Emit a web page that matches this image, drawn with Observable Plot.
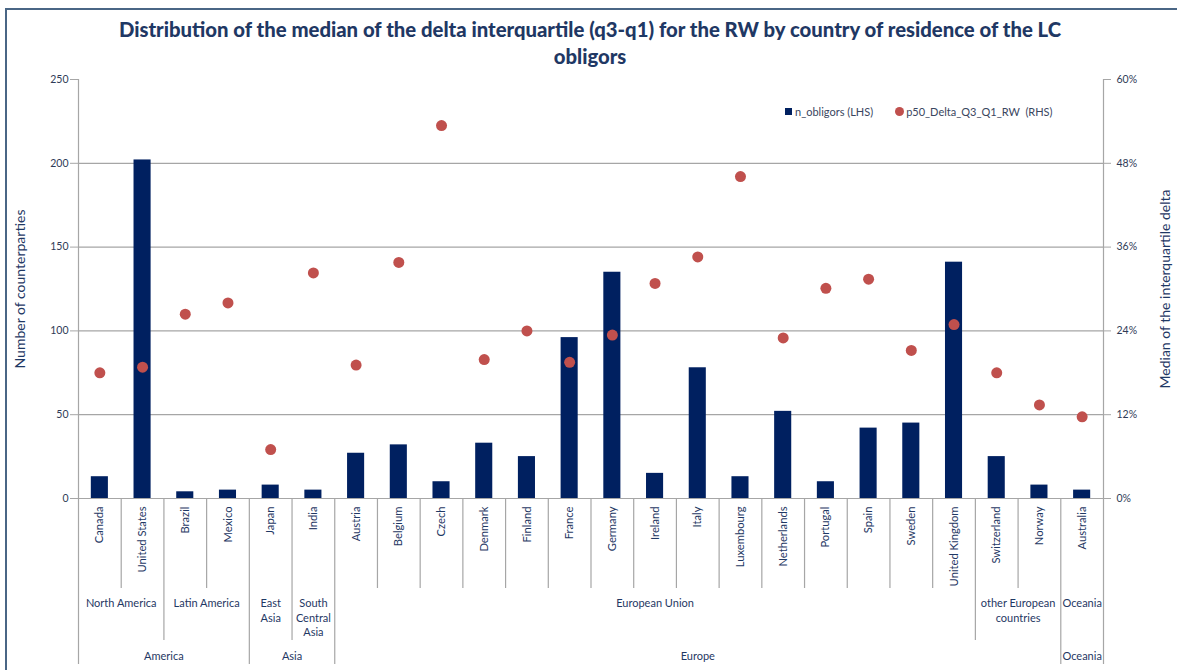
<!DOCTYPE html>
<html><head><meta charset="utf-8">
<script src="https://cdn.jsdelivr.net/npm/d3@7"></script>
<script src="https://cdn.jsdelivr.net/npm/@observablehq/plot@0.6"></script>
<style>
body{margin:0;background:#fff;font-family:Lato,"Open Sans",sans-serif;}
#wrap{position:relative;width:1177px;height:670px;overflow:hidden;background:#fff;}
#frame{position:absolute;left:5px;top:8px;width:1300px;height:800px;border-left:2px solid #4a6685;border-top:2px solid #4a6685;}
#title{position:absolute;left:0;top:16px;width:1180px;text-align:center;font-weight:900;font-size:20.3px;line-height:27px;color:#1f3864;}
#legend{position:absolute;left:785px;top:105px;font-size:11px;color:#3a4660;white-space:pre;display:flex;align-items:center;}
#legend .sq{display:inline-block;width:7px;height:7px;background:#002060;margin-right:3px;}
#legend .ci{display:inline-block;width:9px;height:9px;border-radius:50%;background:#c0504d;margin-left:22px;margin-right:2px;}
#chart{position:absolute;left:0;top:0;}
</style></head>
<body>
<div id="wrap">
  <div id="frame"></div>
  <div id="chart"></div>
  <div id="title">Distribution of the median of the delta interquartile (q3-q1) for the RW by country of residence of the LC<br>obligors</div>
  <div id="legend"><span class="sq"></span><span>n_obligors (LHS)</span><span class="ci"></span><span>p50_Delta_Q3_Q1_RW  (RHS)</span></div>
</div>
<script>
const countries = ["Canada","United States","Brazil","Mexico","Japan","India","Austria","Belgium","Czech","Denmark","Finland","France","Germany","Ireland","Italy","Luxembourg","Netherlands","Portugal","Spain","Sweden","United Kingdom","Switzerland","Norway","Australia"];
const nObligors = [13,202,4,5,8,5,27,32,10,33,25,96,135,15,78,13,52,10,42,45,141,25,8,5];
const p50DeltaPct = [18.0,18.8,26.4,28.0,7.0,32.3,19.1,33.8,53.4,19.9,24.0,19.5,23.4,30.8,34.6,46.1,23.0,30.1,31.4,21.2,24.9,18.0,13.4,11.7];
const regionOf = ["North America","North America","Latin America","Latin America","East\nAsia","South\nCentral\nAsia",
  "European Union","European Union","European Union","European Union","European Union","European Union","European Union","European Union",
  "European Union","European Union","European Union","European Union","European Union","European Union","European Union",
  "other European\ncountries","other European\ncountries","Oceania"];
const continentOf = ["America","America","America","America","Asia","Asia",
  "Europe","Europe","Europe","Europe","Europe","Europe","Europe","Europe","Europe","Europe","Europe","Europe","Europe","Europe","Europe","Europe","Europe","Oceania"];
const leftTicks = [0,50,100,150,200,250];
const gridTicks = [50,100,150,200];
const lhsMax = 250, rhsMax = 60;

const W = 1177, H = 670, mL = 78, mR = 74, mT = 79, mB = 172;
const n = countries.length;
const frameH = H - mT - mB;
const data = countries.map((c,i)=>({i, country:c, n:nObligors[i], p:p50DeltaPct[i]}));
const toLeft = p => p * lhsMax / rhsMax;

function runs(arr){
  const out=[];
  arr.forEach((v,i)=>{const last=out[out.length-1]; if(last && last.name===v) last.end=i+1; else out.push({name:v,start:i,end:i+1});});
  return out;
}
const regionRuns = runs(regionOf), contRuns = runs(continentOf);
const isEdge = (rs,b)=>rs.some(r=>r.start===b||r.end===b);
const b3 = d3.range(n+1).filter(b=>isEdge(contRuns,b));
const b2 = d3.range(n+1).filter(b=>!isEdge(contRuns,b) && isEdge(regionRuns,b));
const b1 = d3.range(n+1).filter(b=>!isEdge(contRuns,b) && !isEdge(regionRuns,b));

const gray = "#a6a6a6", txt = "#2f3b57", navy = "#1f3864";

const chart = Plot.plot({
  width: W, height: H,
  marginLeft: mL, marginRight: mR, marginTop: mT, marginBottom: mB,
  style: {background:"transparent", overflow:"visible", fontFamily:"Lato, sans-serif", fontSize:"10.5px", color: txt},
  x: {domain:[0,n]},
  y: {domain:[0,lhsMax]},
  marks: [
    Plot.ruleY(gridTicks, {stroke: gray, strokeWidth: 1.2}),
    Plot.ruleY([0], {stroke: gray, strokeWidth: 1.2}),
    Plot.ruleX([0, n], {stroke: gray, strokeWidth: 1.2}),
    Plot.ruleX(b1, {x: d=>d, insetTop: frameH, insetBottom: -90, stroke: gray, strokeWidth: 1.2}),
    Plot.ruleX(b2, {x: d=>d, insetTop: frameH, insetBottom: -142, stroke: gray, strokeWidth: 1.2}),
    Plot.ruleX(b3, {x: d=>d, insetTop: frameH, insetBottom: -166, stroke: gray, strokeWidth: 1.2}),
    Plot.rectY(data, {x1: d=>d.i+0.3, x2: d=>d.i+0.7, y: "n", fill: "#002060"}),
    Plot.dot(data, {x: d=>d.i+0.5, y: d=>toLeft(d.p), r: 5.5, fill: "#c0504d", stroke: "none"}),
    Plot.axisY(leftTicks, {anchor:"left", tickSize:8, tickPadding:2, label:null, stroke: gray, fill: txt, fontSize: 10.5}),
    Plot.axisY(leftTicks, {anchor:"right", tickSize:7, tickPadding:6, label:null, stroke: gray, fill: txt, fontSize: 10.5,
      tickFormat: d => `${Math.round(d*rhsMax/lhsMax)}%`}),
    Plot.axisX(d3.range(n).map(i=>i+0.5), {anchor:"bottom", tickSize:0, tickPadding:8, tickRotate:-90, label:null,
      fill: navy, fontSize: 11.2, tickFormat: d => countries[Math.round(d-0.5)]}),
    Plot.text(regionRuns, {x: d=>(d.start+d.end)/2, text: "name", frameAnchor:"bottom", dy: 98, lineAnchor:"top",
      lineHeight: 1.33, fontSize: 11, fill: navy}),
    Plot.text(contRuns, {x: d=>(d.start+d.end)/2, text: "name", frameAnchor:"bottom", dy: 158, lineAnchor:"middle",
      fontSize: 11, fill: navy}),
    Plot.text(["Number of counterparties"], {frameAnchor:"left", dx:-58, rotate:-90, textAnchor:"middle", fontSize:14, fill: navy}),
    Plot.text(["Median of the interquartile delta"], {frameAnchor:"right", dx:62, rotate:-90, textAnchor:"middle", fontSize:14, fill: navy})
  ]
});
document.getElementById("chart").appendChild(chart);
</script>
</body></html>
